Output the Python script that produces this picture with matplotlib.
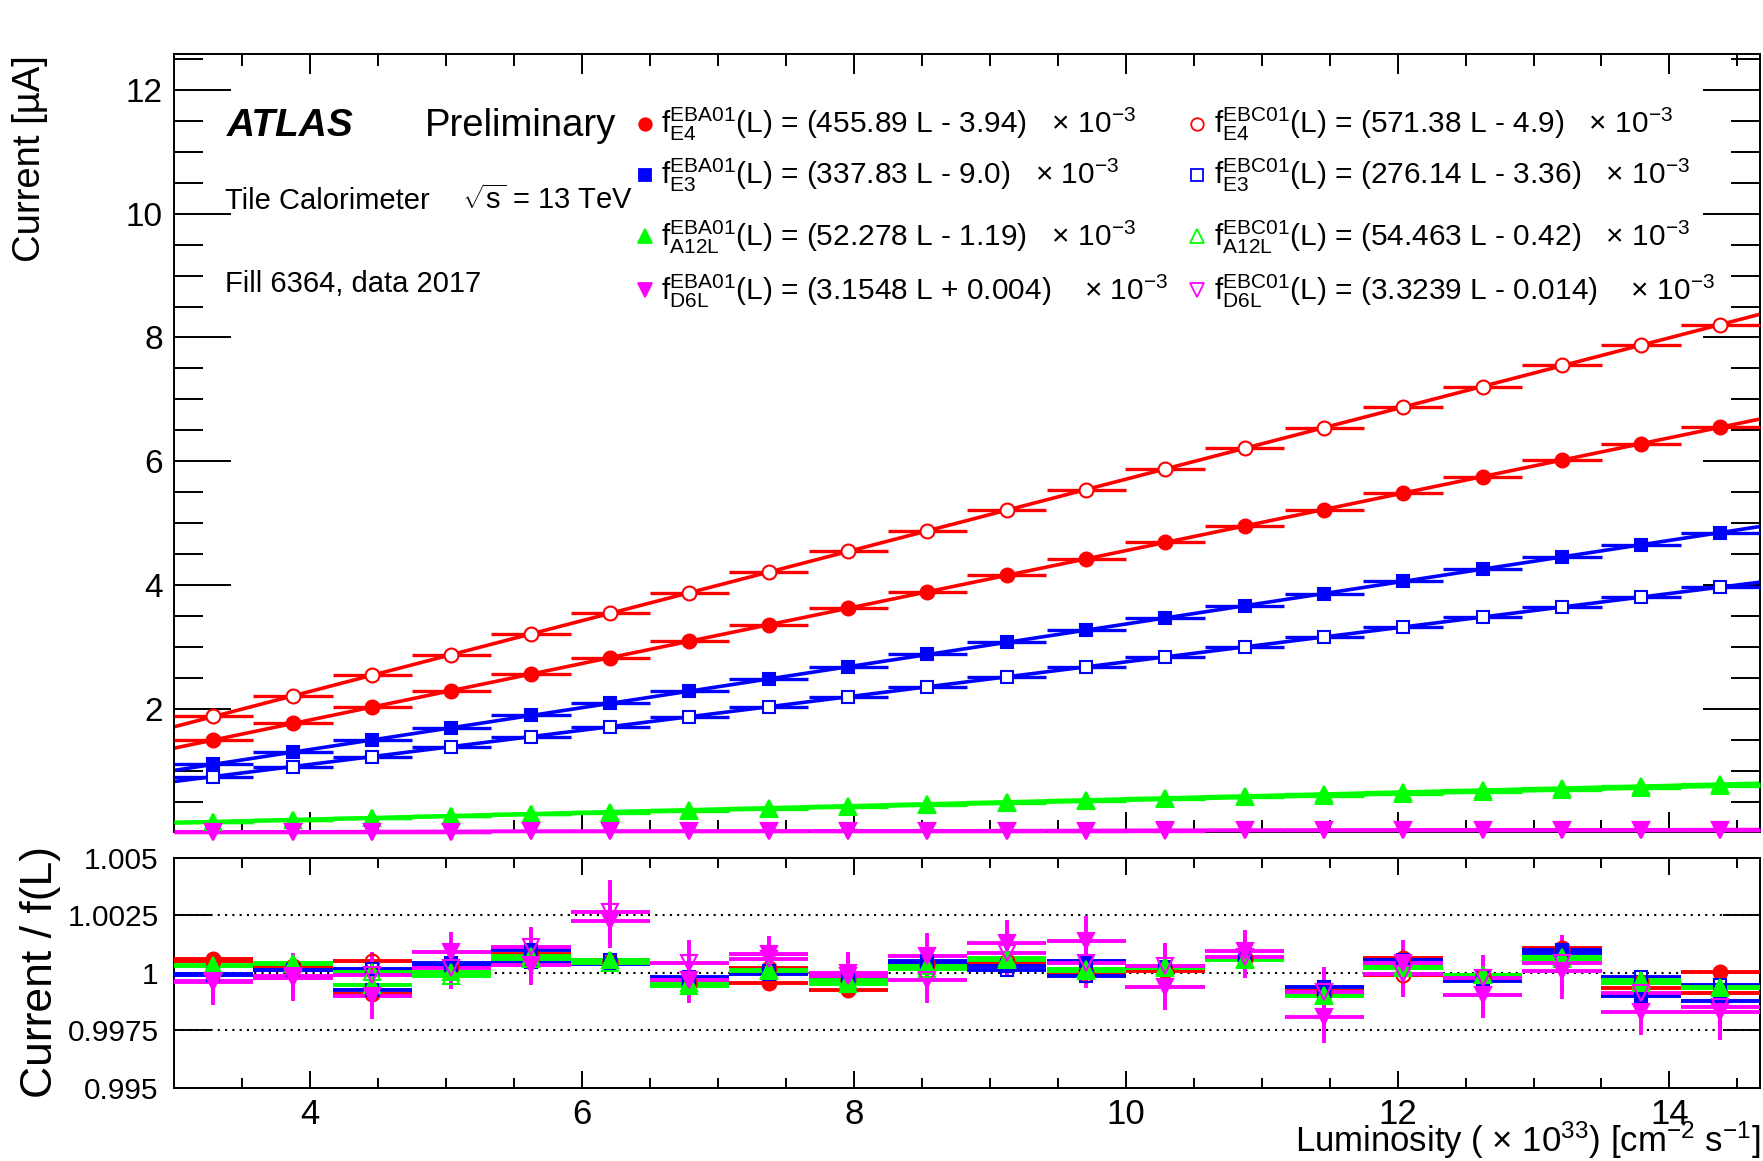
import numpy as np
import matplotlib
matplotlib.use('Agg')
import matplotlib.pyplot as plt

plt.rcParams['font.family'] = ['Liberation Sans', 'DejaVu Sans']
plt.rcParams['mathtext.fontset'] = 'custom'
plt.rcParams['mathtext.rm'] = 'Liberation Sans'
plt.rcParams['mathtext.it'] = 'Liberation Sans:italic'
plt.rcParams['mathtext.bf'] = 'Liberation Sans:bold'
plt.rcParams['mathtext.default'] = 'regular'

# luminosity bins (x 10^33 cm-2 s-1)
lumi = [3.29, 3.875, 4.46, 5.04, 5.625, 6.21, 6.79, 7.375, 7.96, 8.54,
        9.125, 9.71, 10.29, 10.875, 11.46, 12.04, 12.625, 13.21, 13.79, 14.375]
half_bin = 0.2915

# fit parameters from the legend : f(L) = (a L + b) x 10^-3
fit_e4_a = (455.89, -3.94)
fit_e4_c = (571.38, -4.9)
fit_e3_a = (337.83, -9.0)
fit_e3_c = (276.14, -3.36)
fit_a12_a = (52.278, -1.19)
fit_a12_c = (54.463, -0.42)
fit_d6_a = (3.1548, 0.004)
fit_d6_c = (3.3239, -0.014)

# current / f(L) read in the lower panel
ratio_e4_a = [1.00060, 1.00025, 0.99910, 1.00029, 1.00084, 1.00045, 0.99949, 0.99955, 0.99927, 1.00035,
              1.00044, 1.00005, 1.00007, 1.00060, 0.99920, 1.00065, 0.99985, 1.00110, 0.99935, 1.00005]
ratio_e4_c = [1.00050, 1.00030, 1.00054, 1.00025, 1.00065, 1.00050, 0.99960, 1.00022, 0.99970, 1.00045,
              1.00050, 0.99993, 1.00015, 1.00065, 0.99910, 0.99993, 0.99980, 1.00100, 0.99960, 0.99911]
ratio_e3_a = [0.99990, 1.00015, 0.99927, 1.00044, 1.00099, 1.00039, 0.99983, 0.99997, 0.99988, 1.00054,
              1.00032, 1.00054, 1.00020, 1.00065, 0.99937, 1.00055, 0.99964, 1.00102, 0.99901, 0.99880]
ratio_e3_c = [0.99995, 1.00015, 1.00019, 1.00035, 1.00047, 1.00055, 0.99971, 1.00010, 0.99975, 1.00040,
              1.00015, 0.99985, 1.00025, 1.00060, 0.99910, 1.00045, 0.99985, 1.00087, 0.99983, 0.99948]
ratio_a12_a = [1.00035, 1.00044, 0.99949, 1.00003, 1.00073, 1.00058, 0.99942, 1.00015, 0.99952, 1.00029,
               1.00065, 1.00019, 1.00030, 1.00055, 0.99898, 1.00022, 0.99993, 1.00061, 0.99956, 0.99935]
ratio_a12_c = [1.00030, 1.00040, 1.00003, 0.99985, 1.00060, 1.00045, 0.99956, 1.00010, 0.99970, 1.00018,
               1.00055, 1.00010, 1.00020, 1.00060, 0.99905, 1.00030, 0.99990, 1.00070, 0.99970, 0.99940]
ratio_d6_a = [0.99960, 0.99978, 0.99901, 1.00090, 1.00036, 1.00228, 0.99970, 1.00081, 1.00000, 1.00073,
              1.00130, 1.00138, 0.99937, 1.00097, 0.99807, 1.00044, 0.99906, 1.00007, 0.99829, 0.99830]
ratio_d6_c = [0.99965, 0.99985, 0.99991, 1.00022, 1.00112, 1.00266, 1.00044, 1.00061, 0.99985, 0.99971,
              1.00087, 1.00044, 1.00030, 1.00070, 0.99916, 0.99997, 0.99978, 1.00044, 0.99913, 0.99850]

# relative uncertainties
err_e4 = [0.00025] * 20
err_e3 = [0.00025] * 20
err_a12 = [0.00035] * 20
err_d6_a = [0.0010, 0.0010, 0.0010, 0.0009, 0.0009, 0.0012, 0.0010, 0.0008, 0.0009, 0.0010,
            0.0010, 0.0011, 0.0010, 0.0009, 0.0011, 0.0010, 0.0010, 0.0012, 0.0010, 0.0012]
err_d6_c = [0.0010, 0.0010, 0.0010, 0.0009, 0.0009, 0.0014, 0.0010, 0.0008, 0.0009, 0.0010,
            0.0010, 0.0011, 0.0010, 0.0009, 0.0011, 0.0010, 0.0010, 0.0012, 0.0010, 0.0012]

labels = [r'$f^{EBA01}_{E4}$(L) = (455.89 L - 3.94)   $\times$ 10$^{-3}$',
          r'$f^{EBC01}_{E4}$(L) = (571.38 L - 4.9)   $\times$ 10$^{-3}$',
          r'$f^{EBA01}_{E3}$(L) = (337.83 L - 9.0)   $\times$ 10$^{-3}$',
          r'$f^{EBC01}_{E3}$(L) = (276.14 L - 3.36)   $\times$ 10$^{-3}$',
          r'$f^{EBA01}_{A12L}$(L) = (52.278 L - 1.19)   $\times$ 10$^{-3}$',
          r'$f^{EBC01}_{A12L}$(L) = (54.463 L - 0.42)   $\times$ 10$^{-3}$',
          r'$f^{EBA01}_{D6L}$(L) = (3.1548 L + 0.004)    $\times$ 10$^{-3}$',
          r'$f^{EBC01}_{D6L}$(L) = (3.3239 L - 0.014)    $\times$ 10$^{-3}$']

red, blue, green, mag = '#ff0000', '#0000ff', '#00ff00', '#ff00ff'
series = [
    (fit_e4_a, ratio_e4_a, err_e4, red, 'o', True, 10),
    (fit_e4_c, ratio_e4_c, err_e4, red, 'o', False, 10),
    (fit_e3_a, ratio_e3_a, err_e3, blue, 's', True, 9),
    (fit_e3_c, ratio_e3_c, err_e3, blue, 's', False, 9),
    (fit_a12_a, ratio_a12_a, err_a12, green, '^', True, 11),
    (fit_a12_c, ratio_a12_c, err_a12, green, '^', False, 11),
    (fit_d6_a, ratio_d6_a, err_d6_a, mag, 'v', True, 11),
    (fit_d6_c, ratio_d6_c, err_d6_c, mag, 'v', False, 11),
]
# EBC drawn first so the filled EBA markers end on top
draw_order = [1, 0, 3, 2, 5, 4, 7, 6]

L = np.array(lumi)
xmin, xmax = 3.0, 14.666
xx = np.array([xmin, xmax])

fig = plt.figure(figsize=(17.63, 11.61), dpi=100)
ax = fig.add_axes([0.0987, 0.2834, 0.8996, 0.6701])
axr = fig.add_axes([0.0987, 0.0629, 0.8996, 0.1981])

for k in draw_order:
    (a, b), ratio, err, col, mk, filled, ms = series[k]
    f = (a * L + b) * 1e-3
    r = np.array(ratio)
    e = np.array(err)
    ax.plot(xx, (a * xx + b) * 1e-3, color=col, lw=2.6, zorder=2)
    ax.errorbar(L, f * r, xerr=half_bin, yerr=f * e, fmt=mk, color=col, ms=ms,
                mfc=col if filled else 'white', mec=col, mew=1.5, elinewidth=2.4,
                capsize=0, zorder=3, clip_on=False)
    axr.errorbar(L, r, xerr=half_bin, yerr=e, fmt=mk, color=col, ms=ms,
                 mfc=col if filled else 'none', mec=col, mew=1.5, elinewidth=2.8,
                 capsize=0, zorder=3)

# legend
leg_y_marker = [0.910, 0.845, 0.766, 0.697]
leg_y_text = [0.898, 0.833, 0.753, 0.684]
for i, ((a, b), ratio, err, col, mk, filled, ms) in enumerate(series):
    colx = 0.297 if i % 2 == 0 else 0.645
    tx = 0.307 if i % 2 == 0 else 0.656
    row = i // 2
    ax.plot([colx], [leg_y_marker[row]], mk, color=col, ms=ms - 1,
            mfc=col if filled else 'none', mew=1.3, transform=ax.transAxes,
            clip_on=False, zorder=5)
    ax.text(tx, leg_y_text[row], labels[i], transform=ax.transAxes,
            fontsize=21.5, va='baseline', ha='left')

ax.text(0.0334, 0.8946, 'ATLAS', transform=ax.transAxes, fontsize=28,
        fontweight='bold', fontstyle='italic', va='baseline')
ax.text(0.158, 0.8946, 'Preliminary', transform=ax.transAxes, fontsize=27.5,
        va='baseline')
ax.text(0.0322, 0.8008, 'Tile Calorimeter', transform=ax.transAxes, fontsize=21,
        va='baseline')
ax.text(0.1816, 0.8008, r'$\sqrt{s}$ = 13 TeV', transform=ax.transAxes,
        fontsize=21, va='baseline')
ax.text(0.0322, 0.694, 'Fill 6364, data 2017', transform=ax.transAxes,
        fontsize=21, va='baseline')

# main axes
ax.set_xlim(xmin, xmax)
ax.set_ylim(0.01, 12.58)
ax.set_yticks([2, 4, 6, 8, 10, 12])
ax.set_yticks(np.arange(0.5, 12.6, 0.5), minor=True)
ax.set_xticks([4, 6, 8, 10, 12, 14])
ax.set_xticks(np.arange(3.5, 14.6, 0.5), minor=True)
ax.tick_params(axis='y', which='major', direction='in', length=41, width=1.4,
               right=True, labelsize=24, pad=8)
ax.tick_params(axis='y', which='minor', direction='in', length=21, width=1.4,
               right=True)
ax.tick_params(axis='x', which='major', direction='in', length=14.5, width=1.4,
               top=True, labelbottom=False)
ax.tick_params(axis='x', which='minor', direction='in', length=8.5, width=1.4,
               top=True)
for s in ax.spines.values():
    s.set_linewidth(1.4)

# ratio axes
for yv in [0.9975, 1.0, 1.0025]:
    axr.axhline(yv, color='black', lw=1.5, ls=(0, (1, 2.5)), zorder=1)
axr.set_xlim(xmin, xmax)
axr.set_ylim(0.995, 1.005)
axr.set_yticks([0.995, 0.9975, 1.0, 1.0025, 1.005])
axr.set_yticklabels(['0.995', '0.9975', '1', '1.0025', '1.005'])
axr.set_xticks([4, 6, 8, 10, 12, 14])
axr.set_xticks(np.arange(3.5, 14.6, 0.5), minor=True)
axr.tick_params(axis='y', which='major', direction='in', length=27, width=1.4,
                right=True, labelsize=21.5, pad=11)
axr.tick_params(axis='x', which='major', direction='in', length=12, width=1.4,
                top=True, labelsize=25, pad=7)
axr.tick_params(axis='x', which='minor', direction='in', length=7, width=1.4,
                top=True)
for s in axr.spines.values():
    s.set_linewidth(1.4)

fig.text(30 / 1763, 1 - 55 / 1161, 'Current [µA]', rotation=90, ha='center',
         va='top', fontsize=27.5)
fig.text(41 / 1763, 1 - 972 / 1161, 'Current / f(L)', rotation=90, ha='center',
         va='center', fontsize=32)
fig.text(1760 / 1763, 1 - 1152 / 1161,
         r'Luminosity ( $\times$ 10$^{33}$) [cm$^{-2}$ s$^{-1}$]',
         ha='right', va='baseline', fontsize=25)

fig.savefig('out.png', dpi=100)
